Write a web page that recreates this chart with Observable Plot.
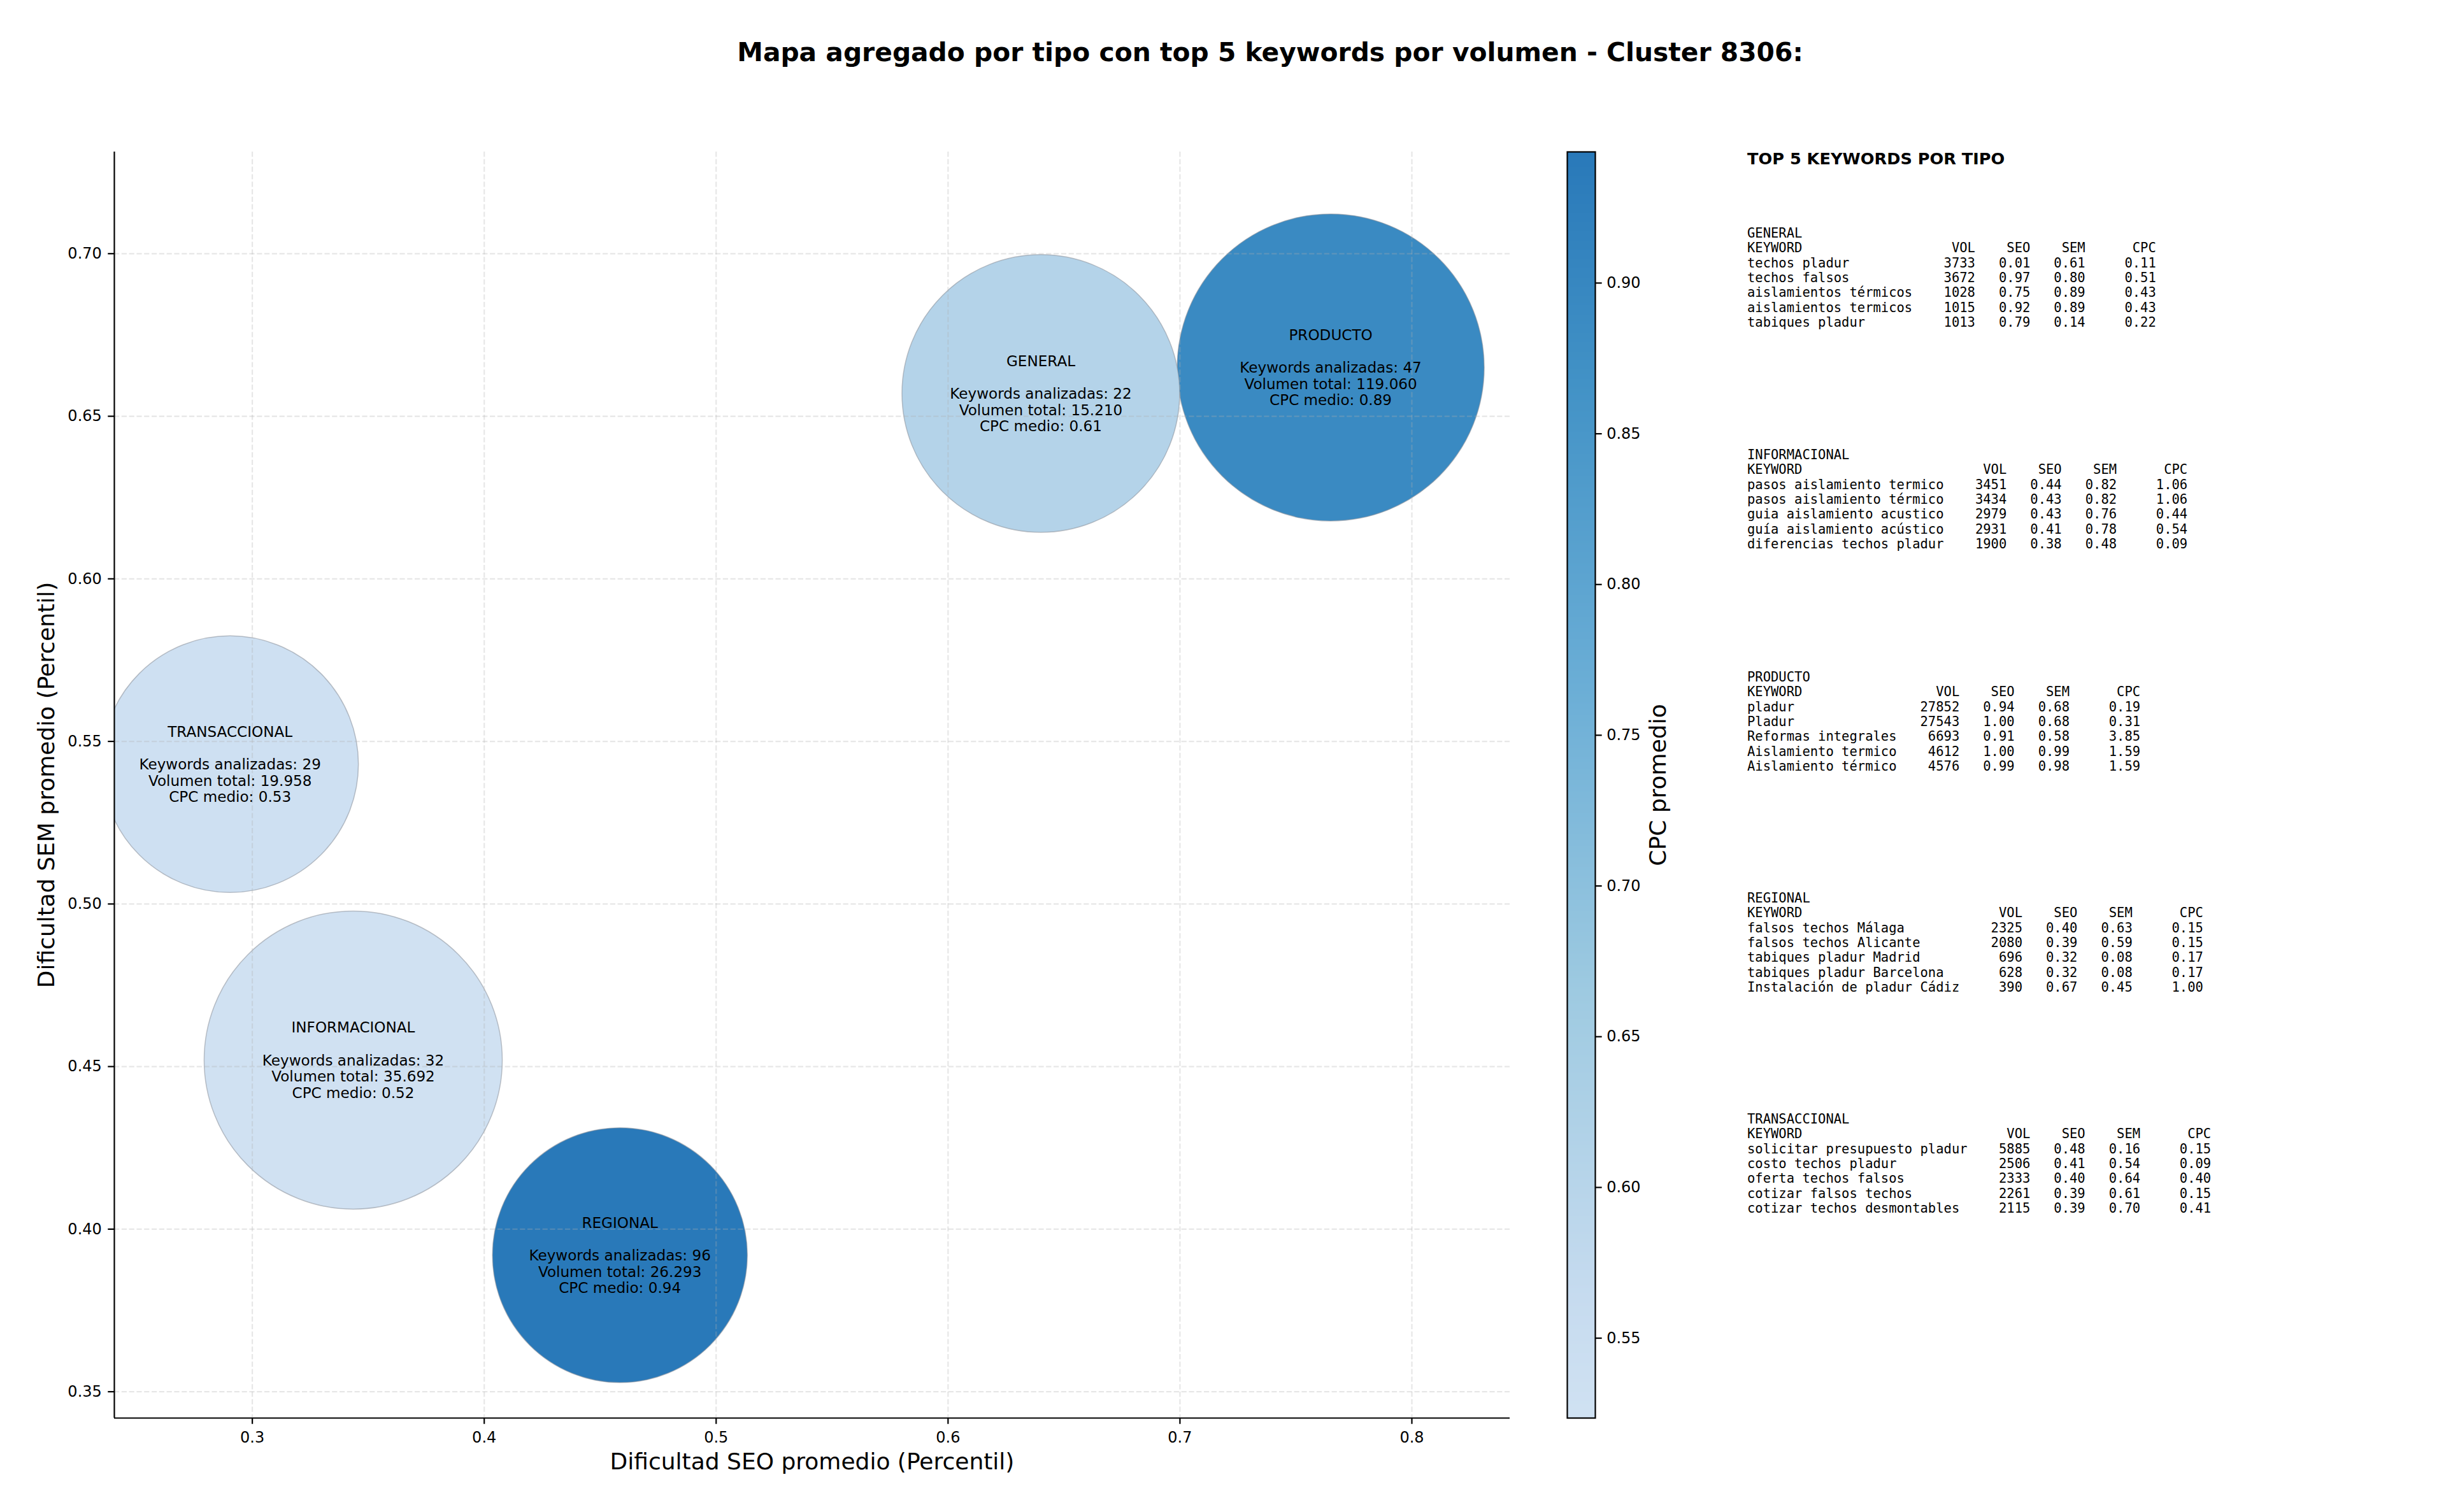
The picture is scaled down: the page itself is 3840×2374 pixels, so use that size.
<!DOCTYPE html>
<html>
<head>
<meta charset="utf-8">
<script src="https://cdn.jsdelivr.net/npm/d3@7"></script>
<script src="https://cdn.jsdelivr.net/npm/@observablehq/plot@0.6"></script>
<style>
  html, body { margin: 0; padding: 0; background: #fff; }
  #page { position: relative; width: 3840px; height: 2374px; background: #fff; overflow: hidden; }
  .abs { position: absolute; }
  #title { font-family: "DejaVu Sans", sans-serif; font-weight: bold; font-size: 40.8px; line-height: 40.8px;
           left: 1994px; top: 61.5px; transform: translateX(-50%); white-space: nowrap; color: #000; }
  #panelTitle { font-family: "DejaVu Sans", sans-serif; font-weight: bold; font-size: 25.6px; line-height: 25.6px;
           left: 2743px; top: 236.5px; white-space: nowrap; color: #000; }
  pre.tbl { font-family: "DejaVu Sans Mono", monospace; font-size: 20.5px; line-height: 23.3px; margin: 0;
           left: 2743px; color: #000; }
</style>
</head>
<body>
<div id="page"></div>
<script>
// ---------------- Data ----------------
const tipos       = ["GENERAL", "INFORMACIONAL", "PRODUCTO", "REGIONAL", "TRANSACCIONAL"];
const seoPromedio = [0.640, 0.3435, 0.765, 0.4585, 0.2904];
const semPromedio = [0.657, 0.452, 0.665, 0.392, 0.543];
const nKeywords   = [22, 32, 47, 96, 29];
const volTotal    = [15210, 35692, 119060, 26293, 19958];
const cpcMedio    = [0.61, 0.5235, 0.89, 0.9435, 0.53];
const tamanoRel   = [81.8, 94.3, 100, 68.9, 69.9];   // relative bubble area

const xTicks = [0.3, 0.4, 0.5, 0.6, 0.7, 0.8];
const yTicks = [0.35, 0.40, 0.45, 0.50, 0.55, 0.60, 0.65, 0.70];
const cTicks = [0.55, 0.60, 0.65, 0.70, 0.75, 0.80, 0.85, 0.90];
const xDomain = [0.2405, 0.8423];
const yDomain = [0.3419, 0.7313];

const titulo = "Mapa agregado por tipo con top 5 keywords por volumen - Cluster 8306:";
const xLabel = "Dificultad SEO promedio (Percentil)";
const yLabel = "Dificultad SEM promedio (Percentil)";
const cLabel = "CPC promedio";
const panelTitulo = "TOP 5 KEYWORDS POR TIPO";

// top 5 keywords per type: [keyword, vol, seo, sem, cpc]
const topGeneral = [
  ["techos pladur", 3733, 0.01, 0.61, 0.11],
  ["techos falsos", 3672, 0.97, 0.80, 0.51],
  ["aislamientos térmicos", 1028, 0.75, 0.89, 0.43],
  ["aislamientos termicos", 1015, 0.92, 0.89, 0.43],
  ["tabiques pladur", 1013, 0.79, 0.14, 0.22]
];
const topInformacional = [
  ["pasos aislamiento termico", 3451, 0.44, 0.82, 1.06],
  ["pasos aislamiento térmico", 3434, 0.43, 0.82, 1.06],
  ["guia aislamiento acustico", 2979, 0.43, 0.76, 0.44],
  ["guía aislamiento acústico", 2931, 0.41, 0.78, 0.54],
  ["diferencias techos pladur", 1900, 0.38, 0.48, 0.09]
];
const topProducto = [
  ["pladur", 27852, 0.94, 0.68, 0.19],
  ["Pladur", 27543, 1.00, 0.68, 0.31],
  ["Reformas integrales", 6693, 0.91, 0.58, 3.85],
  ["Aislamiento termico", 4612, 1.00, 0.99, 1.59],
  ["Aislamiento térmico", 4576, 0.99, 0.98, 1.59]
];
const topRegional = [
  ["falsos techos Málaga", 2325, 0.40, 0.63, 0.15],
  ["falsos techos Alicante", 2080, 0.39, 0.59, 0.15],
  ["tabiques pladur Madrid", 696, 0.32, 0.08, 0.17],
  ["tabiques pladur Barcelona", 628, 0.32, 0.08, 0.17],
  ["Instalación de pladur Cádiz", 390, 0.67, 0.45, 1.00]
];
const topTransaccional = [
  ["solicitar presupuesto pladur", 5885, 0.48, 0.16, 0.15],
  ["costo techos pladur", 2506, 0.41, 0.54, 0.09],
  ["oferta techos falsos", 2333, 0.40, 0.64, 0.40],
  ["cotizar falsos techos", 2261, 0.39, 0.61, 0.15],
  ["cotizar techos desmontables", 2115, 0.39, 0.70, 0.41]
];
const panelOrden = [
  ["GENERAL", topGeneral],
  ["INFORMACIONAL", topInformacional],
  ["PRODUCTO", topProducto],
  ["REGIONAL", topRegional],
  ["TRANSACCIONAL", topTransaccional]
];

// ---------------- Helpers ----------------
const bluesStops = ["#f7fbff","#deebf7","#c6dbef","#9ecae1","#6baed6","#4292c6","#2171b5","#08519c","#08306b"];
const mplBlues = d3.piecewise(d3.interpolateRgb, bluesStops);
const cmap = t => mplBlues(0.2 + 0.52 * t);
const cDomain = d3.extent(cpcMedio);
const fmtVol = v => d3.format(",")(v).replace(/,/g, ".");

const rows = tipos.map((t, i) => ({
  tipo: t, seo: seoPromedio[i], sem: semPromedio[i], n: nKeywords[i],
  vol: volTotal[i], cpc: cpcMedio[i], size: tamanoRel[i],
  label: `${t}\n\u00a0\nKeywords analizadas: ${nKeywords[i]}\nVolumen total: ${fmtVol(volTotal[i])}\nCPC medio: ${cpcMedio[i].toFixed(2)}`
}));

const page = document.getElementById("page");
const FONT = "DejaVu Sans, sans-serif";
const LW = 2.2;

// ---------------- Main chart ----------------
const main = Plot.plot({
  width: 2420, height: 2374,
  marginLeft: 179, marginRight: 50, marginTop: 238, marginBottom: 148,
  style: { fontFamily: FONT, fontSize: "24px", background: "transparent", color: "#000" },
  x: { domain: xDomain },
  y: { domain: yDomain },
  r: { type: "sqrt", domain: [0, 100], range: [0, 241] },
  color: { type: "linear", domain: cDomain, interpolate: cmap },
  marks: [
    Plot.dot(rows, { x: "seo", y: "sem", r: "size", fill: "cpc", stroke: "#8a9099", strokeOpacity: 0.55, strokeWidth: 1.5, clip: true }),
    Plot.gridX(xTicks, { stroke: "#b0b0b0", strokeOpacity: 0.3, strokeWidth: LW, strokeDasharray: "8.2,3.6" }),
    Plot.gridY(yTicks, { stroke: "#b0b0b0", strokeOpacity: 0.3, strokeWidth: LW, strokeDasharray: "8.2,3.6" }),
    Plot.text(rows, { x: "seo", y: "sem", text: "label", fontSize: 23.1, lineHeight: 1.11, lineAnchor: "middle", textAnchor: "middle", fill: "#000" }),
    Plot.ruleX([xDomain[0]], { stroke: "#000", strokeWidth: LW }),
    Plot.ruleY([yDomain[0]], { stroke: "#000", strokeWidth: LW }),
    Plot.axisX({ ticks: xTicks, tickFormat: d => String(d), tickSize: 9.7, tickPadding: 12, fontSize: 24, strokeWidth: LW, label: null }),
    Plot.axisY({ ticks: yTicks, tickFormat: d3.format(".2f"), tickSize: 9.7, tickPadding: 10, fontSize: 24, strokeWidth: LW, label: null }),
    Plot.text([xLabel], { text: d => d, frameAnchor: "bottom", textAnchor: "middle", dy: 69, fontSize: 36, lineAnchor: "middle", fill: "#000" }),
    Plot.text([yLabel], { text: d => d, frameAnchor: "left", textAnchor: "middle", dx: -106, rotate: -90, fontSize: 36, lineAnchor: "middle", fill: "#000" })
  ]
});
main.classList.add("abs");
main.style.left = "0px"; main.style.top = "0px";
page.appendChild(main);

// ---------------- Colorbar ----------------
const cbar = Plot.plot({
  width: 320, height: 2374,
  marginLeft: 60, marginRight: 216, marginTop: 238, marginBottom: 148,
  style: { fontFamily: FONT, fontSize: "24px", background: "transparent", color: "#000" },
  x: { domain: [0, 1], axis: null },
  y: { domain: cDomain, axis: null },
  color: { type: "linear", domain: cDomain, interpolate: cmap },
  marks: [
    Plot.raster({ x1: 0, x2: 1, y1: cDomain[0], y2: cDomain[1], fill: (x, y) => y, pixelSize: 1 }),
    Plot.frame({ stroke: "#000", strokeWidth: LW }),
    Plot.axisY({ anchor: "right", ticks: cTicks, tickFormat: d3.format(".2f"), tickSize: 9.7, tickPadding: 8, fontSize: 24, strokeWidth: LW, label: null }),
    Plot.text([cLabel], { text: d => d, frameAnchor: "right", textAnchor: "middle", dx: 99, rotate: -90, fontSize: 36, lineAnchor: "middle", fill: "#000" })
  ]
});
cbar.classList.add("abs");
cbar.style.left = "2400px"; cbar.style.top = "0px";
page.appendChild(cbar);

// ---------------- Title & keyword panel ----------------
const title = document.createElement("div");
title.id = "title"; title.className = "abs"; title.textContent = titulo;
page.appendChild(title);

const pt = document.createElement("div");
pt.id = "panelTitle"; pt.className = "abs"; pt.textContent = panelTitulo;
page.appendChild(pt);

const baselines = [374, 722, 1071, 1418, 1765];
panelOrden.forEach(([tipo, list], k) => {
  const w = d3.max(list, r => r[0].length) + 1;
  const lines = [tipo,
    "KEYWORD".padEnd(w) + "VOL".padStart(7) + "SEO".padStart(7) + "SEM".padStart(7) + "CPC".padStart(9)];
  list.forEach(r => {
    lines.push(r[0].padEnd(w) + String(r[1]).padStart(7) + r[2].toFixed(2).padStart(7) +
               r[3].toFixed(2).padStart(7) + r[4].toFixed(2).padStart(9));
  });
  const pre = document.createElement("pre");
  pre.className = "tbl abs";
  pre.style.top = (baselines[k] - 18.8) + "px";
  pre.textContent = lines.join("\n");
  page.appendChild(pre);
});
</script>
</body>
</html>
